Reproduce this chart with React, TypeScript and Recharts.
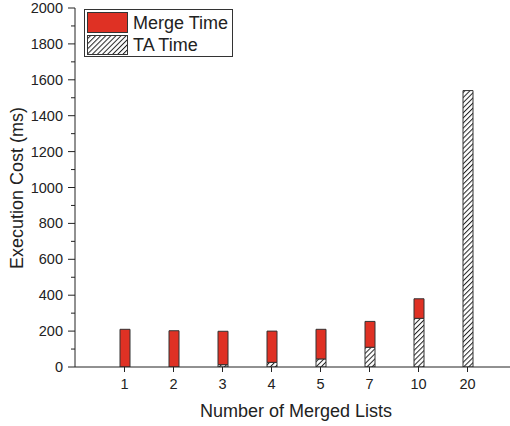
import React from 'react';
import { BarChart, Bar, XAxis, YAxis } from 'recharts';

// number of merged lists
const lists = ['1', '2', '3', '4', '5', '7', '10', '20'];
// execution cost parts (ms)
const taTime = [0, 0, 13, 26, 45, 110, 271, 1540];
const mergeTime = [210, 202, 186, 174, 165, 144, 109, 0];
const yTicks = [0, 100, 200, 300, 400, 500, 600, 700, 800, 900, 1000, 1100, 1200, 1300, 1400, 1500, 1600, 1700, 1800, 1900, 2000];

const RED = '#df3124';
const FONT = '"Liberation Sans", Arial, sans-serif';

const data = lists.map((name, i) => ({ name, ta: taTime[i], merge: mergeTime[i] }));

const YTick = (props: any) => {
  const { x, y, payload } = props;
  const major = payload.value % 200 === 0;
  return (
    <g>
      <line x1={x - (major ? 7 : 4)} x2={x} y1={y} y2={y} stroke="#222" strokeWidth={1} />
      {major && (
        <text x={x - 12} y={y} textAnchor="end" dominantBaseline="central" fontSize={14.5} fill="#222" fontFamily={FONT}>
          {payload.value}
        </text>
      )}
    </g>
  );
};

const XTick = (props: any) => {
  const { x, y, payload } = props;
  return (
    <g>
      <line x1={x} x2={x} y1={y} y2={y + 5} stroke="#222" strokeWidth={1} />
      <text x={x} y={y + 17} textAnchor="middle" dominantBaseline="central" fontSize={14.5} fill="#222" fontFamily={FONT}>
        {payload.value}
      </text>
    </g>
  );
};

const Legend = () => (
  <div
    style={{
      position: 'absolute', left: 84, top: 9, width: 147, height: 46,
      border: '1px solid #333', background: '#fff',
    }}
  >
    <svg width={147} height={46} style={{ position: 'absolute', left: 0, top: 0 }}>
      <rect x={2.5} y={2.5} width={40} height={20} fill={RED} stroke="#333" />
      <rect x={2.5} y={25.5} width={40} height={19} fill="url(#hatch)" stroke="#333" />
      <text x={48} y={13} dominantBaseline="central" fontSize={18} fill="#222" fontFamily={FONT}>Merge Time</text>
      <text x={48} y={35} dominantBaseline="central" fontSize={18} fill="#222" fontFamily={FONT}>TA Time</text>
    </svg>
  </div>
);

export default function App() {
  return (
    <div style={{ position: 'absolute', left: 0, top: 0, width: 510, height: 426, background: '#fff' }}>
      <BarChart width={510} height={426} data={data} margin={{ top: 8, right: 0, bottom: 0, left: 0 }}>
        <defs>
          <pattern id="hatch" patternUnits="userSpaceOnUse" width={3.6} height={3.6} patternTransform="rotate(45)">
            <rect width={3.6} height={3.6} fill="#fff" />
            <line x1={0.5} y1={0} x2={0.5} y2={3.6} stroke="#222" strokeWidth={1} />
          </pattern>
        </defs>
        <XAxis
          dataKey="name"
          height={59}
          padding={{ left: 25, right: 18 }}
          tickSize={0}
          tickMargin={0}
          tick={<XTick />}
          interval={0}
          stroke="#222"
        />
        <YAxis
          width={75}
          domain={[0, 2000]}
          ticks={yTicks}
          interval={0}
          tickSize={0}
          tickMargin={0}
          tick={<YTick />}
          stroke="#222"
          allowDataOverflow
        />
        <Bar dataKey="ta" stackId="a" barSize={10} fill="url(#hatch)" stroke="#333" strokeWidth={1} isAnimationActive={false} />
        <Bar dataKey="merge" stackId="a" barSize={10} fill={RED} stroke="#333" strokeWidth={1} isAnimationActive={false} />
        <text x={17} y={188} transform="rotate(-90 17 188)" textAnchor="middle" dominantBaseline="central" fontSize={18} fill="#222" fontFamily={FONT}>
          Execution Cost (ms)
        </text>
        <text x={296} y={411} textAnchor="middle" dominantBaseline="central" fontSize={18} fill="#222" fontFamily={FONT}>
          Number of Merged Lists
        </text>
      </BarChart>
      <Legend />
    </div>
  );
}
